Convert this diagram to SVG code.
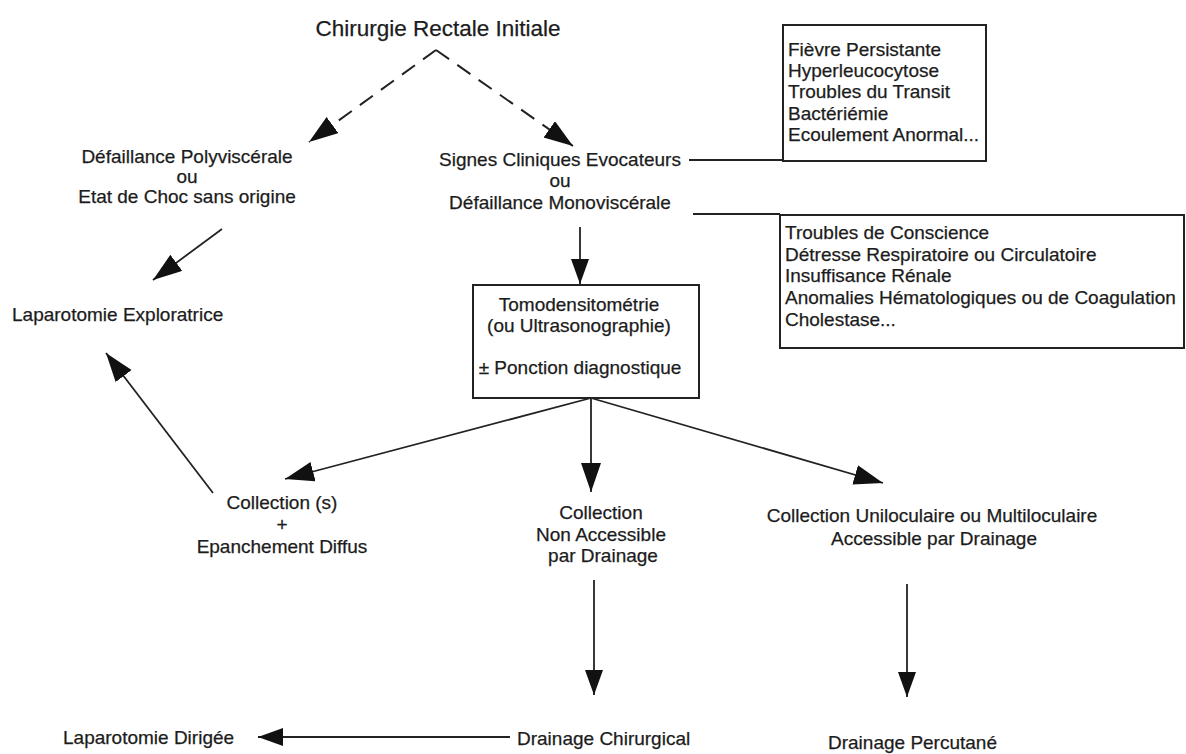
<svg xmlns="http://www.w3.org/2000/svg" width="1186" height="754" viewBox="0 0 1186 754">
<style>
text{font-family:"Liberation Sans",Arial,sans-serif;font-size:19px;fill:#1c1c1c;stroke:#1c1c1c;stroke-width:0.25}
.c{text-anchor:middle}
.title{font-size:22.5px}
.box{fill:#fff;stroke:#222;stroke-width:2}
.ln{fill:none;stroke:#222;stroke-width:1.8}
.dash{stroke-dasharray:16 10;stroke-width:2}
</style>
<defs>
<marker id="ah" markerUnits="userSpaceOnUse" markerWidth="26" markerHeight="20" refX="25" refY="9" orient="auto">
<path d="M0,0 L25,9 L0,18 z" fill="#111"/>
</marker>
<marker id="ahL" markerUnits="userSpaceOnUse" markerWidth="30" markerHeight="22" refX="29" refY="10" orient="auto">
<path d="M0,0 L29,10 L0,20 z" fill="#111"/>
</marker>
</defs>
<g id="connectors">
<path class="ln dash" d="M436,50 L309,142" marker-end="url(#ahL)"/>
<path class="ln dash" d="M436,50 L573,146" marker-end="url(#ahL)"/>
<path class="ln" d="M222,229 L153,280" marker-end="url(#ahL)"/>
<path class="ln" d="M580,227 L580,284" marker-end="url(#ah)"/>
<path class="ln" d="M591,398 L285,479" marker-end="url(#ahL)"/>
<path class="ln" d="M591,398 L591,492" marker-end="url(#ahL)"/>
<path class="ln" d="M591,398 L883,483" marker-end="url(#ahL)"/>
<path class="ln" d="M213,493 L106,353" marker-end="url(#ahL)"/>
<path class="ln" d="M594,580 L594,695" marker-end="url(#ah)"/>
<path class="ln" d="M907,584 L907,697" marker-end="url(#ah)"/>
<path class="ln" d="M510,737 L258,737" marker-end="url(#ah)"/>
<path class="ln" d="M689,160 L783,160"/>
<path class="ln" d="M693,214 L780,214"/>
</g>
<g id="n-chirurgie">
<text class="c title" x="438" y="36">Chirurgie Rectale Initiale</text>
</g>
<g id="n-polyvisc">
<text class="c" x="187" y="163">Défaillance Polyviscérale</text>
<text class="c" x="187" y="183">ou</text>
<text class="c" x="187" y="203">Etat de Choc sans origine</text>
</g>
<g id="n-signes">
<text class="c" x="560" y="166">Signes Cliniques Evocateurs</text>
<text class="c" x="560" y="187">ou</text>
<text class="c" x="560" y="209">Défaillance Monoviscérale</text>
</g>
<g id="n-signes-list">
<rect class="box" x="783" y="25" width="203" height="136"/>
<text x="788" y="56">Fièvre Persistante</text>
<text x="788" y="77">Hyperleucocytose</text>
<text x="788" y="98">Troubles du Transit</text>
<text x="788" y="120">Bactériémie</text>
<text x="788" y="141">Ecoulement Anormal...</text>
</g>
<g id="n-defaillance-list">
<rect class="box" x="780" y="215" width="404" height="133"/>
<text x="785" y="239">Troubles de Conscience</text>
<text x="785" y="261">Détresse Respiratoire ou Circulatoire</text>
<text x="785" y="282">Insuffisance Rénale</text>
<text x="785" y="304">Anomalies Hématologiques ou de Coagulation</text>
<text x="785" y="326">Cholestase...</text>
</g>
<g id="n-laparo-explo">
<text x="12" y="321">Laparotomie Exploratrice</text>
</g>
<g id="n-tomo">
<rect class="box" x="473" y="285" width="226" height="113"/>
<text class="c" x="579" y="311">Tomodensitométrie</text>
<text class="c" x="579" y="332">(ou Ultrasonographie)</text>
<text class="c" x="580" y="374">± Ponction diagnostique</text>
</g>
<g id="n-coll-diffus">
<text class="c" x="282" y="509">Collection (s)</text>
<text class="c" x="282" y="531">+</text>
<text class="c" x="282" y="553">Epanchement Diffus</text>
</g>
<g id="n-coll-nonacc">
<text class="c" x="601" y="519">Collection</text>
<text class="c" x="601" y="541">Non Accessible</text>
<text class="c" x="603" y="562">par Drainage</text>
</g>
<g id="n-coll-acc">
<text class="c" x="932" y="522">Collection Uniloculaire ou Multiloculaire</text>
<text class="c" x="934" y="545">Accessible par Drainage</text>
</g>
<g id="n-laparo-dir">
<text x="63" y="744">Laparotomie Dirigée</text>
</g>
<g id="n-drain-chir">
<text x="517" y="745">Drainage Chirurgical</text>
</g>
<g id="n-drain-perc">
<text x="828" y="749">Drainage Percutané</text>
</g>
</svg>
